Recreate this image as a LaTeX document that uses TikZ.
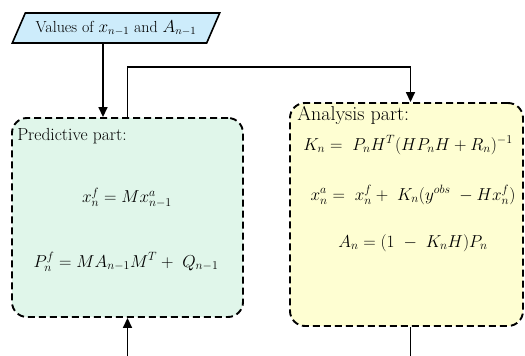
\documentclass[tikz,border=0pt]{standalone}
\usepackage{xcolor}
\usepackage{tikz}
\usetikzlibrary{shapes.geometric, arrows.meta}
\definecolor{inblue}{RGB}{205,236,251}
\definecolor{predgreen}{RGB}{224,246,234}
\definecolor{anyellow}{RGB}{254,254,210}
\tikzset{
  part/.style={draw=black, line width=1.9pt, dash pattern=on 7pt off 4pt,
    rectangle, rounded corners=15pt, inner sep=0pt},
  inbox/.style={draw=black, line width=1.6pt, fill=inblue, trapezium,
    trapezium left angle=56, trapezium right angle=124, trapezium stretches=true,
    minimum width=208pt, minimum height=30pt, inner sep=1pt, font=\fontsize{16}{18}\selectfont},
  ttl/.style={font=\fontsize{17.5}{20}\selectfont, inner sep=0pt},
  eq/.style={font=\fontsize{16.5}{19}\selectfont, inner sep=0pt},
  arr/.style={-{Triangle[length=10pt, width=9pt]}, line width=1.6pt},
  ln/.style={line width=1.6pt},
}
\begin{document}
\begin{tikzpicture}[x=1pt, y=1pt]
  \useasboundingbox (0,0) rectangle (525,356);
  % input and the two parts
  \node[inbox] (in) at (116,328) {Values of $x_{n-1}$ and $A_{n-1}$};
  \node[part, fill=predgreen, minimum width=231pt, minimum height=199pt] (pred) at (127.5,138.5) {};
  \node[part, fill=anyellow, minimum width=233pt, minimum height=223pt] (anal) at (406.5,141.5) {};
  % predictive part
  \node[ttl, anchor=west] (predttl) at ([xshift=6pt, yshift=-19pt]pred.north west) {Predictive part:};
  \node[eq] (xf) at (127,158) {$x_n^f = Mx_{n-1}^a$};
  \node[eq] (pf) at (126,94) {$P_n^f = MA_{n-1}M^T + \ Q_{n-1}$};
  % analysis part
  \node[ttl, font=\fontsize{20}{23}\selectfont, anchor=west] (anttl) at ([xshift=8pt, yshift=-13pt]anal.north west) {Analysis part:};
  \node[eq] (kn) at (408,211) {$K_n = \ P_nH^T(HP_nH + R_n)^{-1}$};
  \node[eq] (xa) at (413,161) {$x_n^a = \ x_n^f + \ K_n(y^{obs} \ - Hx_n^f)$};
  \node[eq] (an) at (413,113) {$A_n = (1 \ - \ K_nH)P_n$};
  % loose ends at the bottom
  \coordinate (backin) at (127.5,0);
  \coordinate (backout) at (410.5,0);

  \draw[arr] ([xshift=-13pt]in.south) -- ([xshift=-24.5pt]pred.north);
  \draw[arr] (pred.north) -- ++(0,50) -| ([xshift=4pt]anal.north);
  \draw[ln] ([xshift=4pt]anal.south) -- (backout);
  \draw[arr] (backin) -- (pred.south);
\end{tikzpicture}
\end{document}
